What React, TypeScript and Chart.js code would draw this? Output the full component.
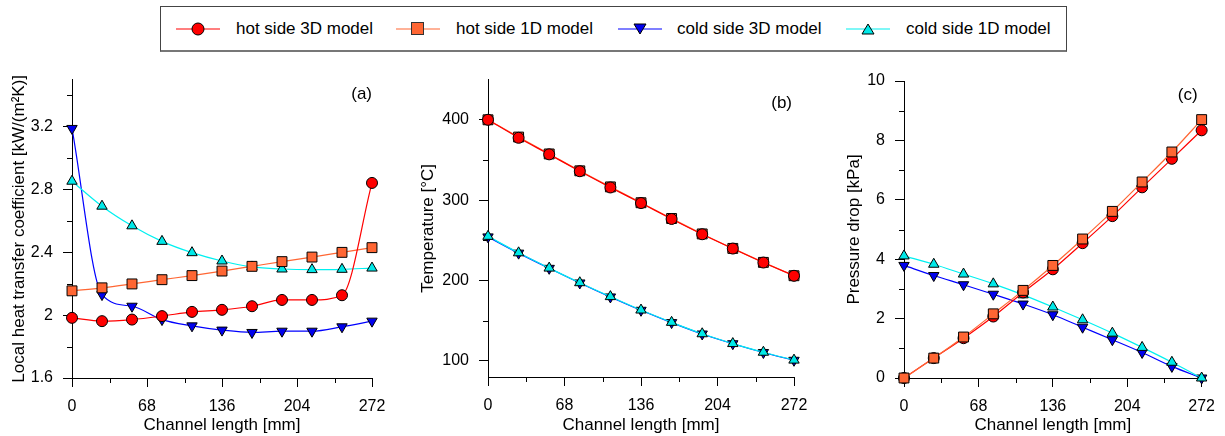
import React, { useEffect, useRef } from "react";
import { Chart, registerables } from "chart.js";

Chart.register(...registerables);

const FONT = "'Liberation Sans', Arial, sans-serif";

// ---------- data ----------
const channelPositions = [0, 27.2, 54.4, 81.6, 108.8, 136, 163.2, 190.4, 217.6, 244.8, 272];
const xMinorTicks = [34, 102, 170, 238];

const seriesNames = ["hot side 3D model", "hot side 1D model", "cold side 3D model", "cold side 1D model"];

// (a) local heat transfer coefficient [kW/(m2K)]
const htcHot3D = [1.983, 1.962, 1.972, 1.994, 2.021, 2.034, 2.057, 2.097, 2.097, 2.127, 2.842];
const htcHot1D = [2.155, 2.174, 2.199, 2.226, 2.252, 2.281, 2.311, 2.341, 2.37, 2.4, 2.43];
const htcCold3D = [3.189, 2.131, 2.057, 1.972, 1.932, 1.905, 1.89, 1.898, 1.898, 1.926, 1.962];
const htcCold1D = [2.853, 2.694, 2.569, 2.47, 2.398, 2.345, 2.307, 2.294, 2.29, 2.292, 2.3];
const htcMinorTicks = [1.8, 2.2, 2.6, 3.0, 3.4];

// (b) temperature [°C]
const tempHot3D = [400, 377.6, 357, 336, 315.8, 296.4, 276.6, 257.6, 239.8, 222.4, 205.9];
const tempHot1D = [400, 378.5, 357.5, 336.5, 316.5, 296.8, 277.2, 258, 240, 222.6, 206];
const tempCold3D = [254.3, 234.1, 215.2, 197, 179.6, 163, 147.7, 133.5, 121.4, 110.5, 100.8];
const tempCold1D = [255, 234.5, 215.5, 197.3, 180, 163.3, 148, 133.8, 121.6, 110.8, 101];
const tempMinorTicks = [150, 250, 350];

// (c) pressure drop [kPa]
const dpHot3D = [0, 0.67, 1.34, 2.07, 2.88, 3.66, 4.54, 5.45, 6.42, 7.38, 8.34];
const dpHot1D = [0, 0.67, 1.38, 2.16, 2.95, 3.79, 4.68, 5.61, 6.6, 7.61, 8.7];
const dpCold3D = [3.79, 3.45, 3.14, 2.82, 2.49, 2.13, 1.71, 1.29, 0.86, 0.39, 0];
const dpCold1D = [4.11, 3.83, 3.5, 3.17, 2.8, 2.39, 1.96, 1.51, 1.03, 0.53, 0];
const dpMinorTicks = [1, 3, 5, 7, 9];

// ---------- styles ----------
type SeriesStyle = { line: string; fill: string; pointStyle: string; radius: number; rotation: number };
const seriesStyles: SeriesStyle[] = [
  { line: "#ff0000", fill: "#ff0000", pointStyle: "circle", radius: 5.5, rotation: 0 },
  { line: "#ff6633", fill: "#ff6633", pointStyle: "rect", radius: 7, rotation: 0 },
  { line: "#0000ff", fill: "#0000ee", pointStyle: "triangle", radius: 6, rotation: 180 },
  { line: "#00f0f0", fill: "#00e8e8", pointStyle: "triangle", radius: 6, rotation: 0 },
];

const minorTicksPlugin = {
  id: "minorTicks",
  afterDraw(chart: any, _args: any, opts: any) {
    const { ctx, scales } = chart;
    const x = scales.x;
    const y = scales.y;
    ctx.save();
    ctx.strokeStyle = "#000";
    ctx.lineWidth = 1;
    ctx.beginPath();
    (opts.x || []).forEach((v: number) => {
      const px = Math.round(x.getPixelForValue(v)) + 0.5;
      const py = Math.round(chart.chartArea.bottom);
      ctx.moveTo(px, py);
      ctx.lineTo(px, py + 5);
    });
    (opts.y || []).forEach((v: number) => {
      const py = Math.round(y.getPixelForValue(v)) + 0.5;
      const px = Math.round(chart.chartArea.left);
      ctx.moveTo(px, py);
      ctx.lineTo(px - 5, py);
    });
    ctx.stroke();
    ctx.restore();
  },
};

const panelTagPlugin = {
  id: "panelTag",
  afterDraw(chart: any, _args: any, opts: any) {
    if (!opts.text) return;
    const { ctx, chartArea } = chart;
    ctx.save();
    ctx.font = `17px ${FONT}`;
    ctx.fillStyle = "#000";
    ctx.textAlign = "right";
    ctx.textBaseline = "middle";
    ctx.fillText(opts.text, chartArea.right + opts.dx, chartArea.top + opts.dy);
    ctx.restore();
  },
};

type PanelProps = {
  left: number;
  top: number;
  width: number;
  height: number;
  plotLeft: number;
  plotTop: number;
  plotRight: number;
  plotBottom: number;
  series: number[][];
  orders: number[];
  yMin: number;
  yMax: number;
  yStep: number;
  yMinor: number[];
  yTitle: string;
  yTitlePad: number;
  tag: string;
  tagDx: number;
  tagDy: number;
};

function Panel(p: PanelProps) {
  const ref = useRef<HTMLCanvasElement>(null);
  useEffect(() => {
    const tickFont = { family: FONT, size: 16 };
    const titleFont = { family: FONT, size: 17 };
    const chart = new Chart(ref.current as HTMLCanvasElement, {
      type: "line",
      data: {
        datasets: p.series.map((vals, i) => ({
          label: seriesNames[i],
          data: vals.map((v, j) => ({ x: channelPositions[j], y: v })),
          borderColor: seriesStyles[i].line,
          backgroundColor: seriesStyles[i].fill,
          borderWidth: 1.2,
          pointStyle: seriesStyles[i].pointStyle as any,
          pointRadius: seriesStyles[i].radius,
          pointRotation: seriesStyles[i].rotation,
          pointBorderColor: "#000",
          pointBorderWidth: 1,
          pointBackgroundColor: seriesStyles[i].fill,
          cubicInterpolationMode: "monotone" as const,
          clip: false as any,
          order: p.orders[i],
          fill: false,
        })),
      },
      options: {
        responsive: false,
        animation: false,
        devicePixelRatio: 1,
        events: [],
        layout: { padding: { left: 0, top: p.plotTop, right: p.width - p.plotRight, bottom: 0 } },
        plugins: {
          legend: { display: false },
          tooltip: { enabled: false },
          minorTicks: { x: xMinorTicks, y: p.yMinor },
          panelTag: { text: p.tag, dx: p.tagDx, dy: p.tagDy },
        } as any,
        scales: {
          x: {
            type: "linear",
            min: 0,
            max: 272,
            ticks: { stepSize: 68, padding: 10, color: "#000", font: tickFont, maxRotation: 0 },
            grid: { drawOnChartArea: false, drawTicks: true, tickLength: 9, color: "#000", lineWidth: 1 },
            border: { display: true, color: "#000", width: 1 },
            title: { display: true, text: "Channel length [mm]", color: "#000", font: titleFont, padding: { top: 0, bottom: 0 } },
            afterFit: (s: any) => {
              s.height = p.height - p.plotBottom;
            },
          },
          y: {
            type: "linear",
            min: p.yMin,
            max: p.yMax,
            ticks: {
              stepSize: p.yStep,
              includeBounds: false,
              padding: 10,
              color: "#000",
              font: tickFont,
              callback: (v: any) => String(Number(Number(v).toFixed(2))),
            },
            grid: { drawOnChartArea: false, drawTicks: true, tickLength: 9, color: "#000", lineWidth: 1 },
            border: { display: true, color: "#000", width: 1 },
            title: { display: true, text: p.yTitle, color: "#000", font: titleFont, padding: { top: p.yTitlePad, bottom: 0 } },
            afterFit: (s: any) => {
              s.width = p.plotLeft;
            },
          },
        },
      },
      plugins: [minorTicksPlugin, panelTagPlugin],
    });
    return () => chart.destroy();
  }, []);
  return (
    <canvas
      ref={ref}
      width={p.width}
      height={p.height}
      style={{ position: "absolute", left: p.left, top: p.top, width: p.width, height: p.height }}
    />
  );
}

function LegendMarker({ kind, cx }: { kind: number; cx: number }) {
  const s = seriesStyles[kind];
  let marker: React.ReactNode = null;
  if (kind === 0) marker = <circle cx={22} cy={8} r={6} fill={s.fill} stroke="#000" strokeWidth={1} />;
  if (kind === 1) marker = <rect x={15.5} y={1.5} width={12} height={12} fill={s.fill} stroke="#333" strokeWidth={1} />;
  if (kind === 2) marker = <polygon points="16,3 28,3 22,13" fill={s.fill} stroke="#000" strokeWidth={1} />;
  if (kind === 3) marker = <polygon points="22,3 28,13 16,13" fill={s.fill} stroke="#000" strokeWidth={1} />;
  return (
    <svg width={44} height={16} style={{ position: "absolute", left: cx - 22, top: 21 }}>
      <line x1={0} y1={8} x2={44} y2={8} stroke={s.line} strokeWidth={1.2} />
      {marker}
    </svg>
  );
}

const legendMarkerX = [198, 418, 640, 868];
const legendTextX = [236, 456, 677, 906];

export default function App() {
  return (
    <div style={{ position: "fixed", left: 0, top: 0, width: 1225, height: 436, background: "#fff", overflow: "hidden" }}>
      <div
        style={{
          position: "absolute",
          left: 160,
          top: 6,
          width: 907,
          height: 46,
          boxSizing: "border-box",
          border: "1px solid #444",
          borderBottom: "2px solid #777",
        }}
      />
      {seriesNames.map((name, i) => (
        <React.Fragment key={name}>
          <LegendMarker kind={i} cx={legendMarkerX[i]} />
          <span
            style={{
              position: "absolute",
              left: legendTextX[i],
              top: 19,
              font: `17px ${FONT}`,
              lineHeight: "20px",
              color: "#000",
              whiteSpace: "nowrap",
            }}
          >
            {name}
          </span>
        </React.Fragment>
      ))}
      <Panel
        left={0}
        top={60}
        width={400}
        height={376}
        plotLeft={72}
        plotTop={18}
        plotRight={372}
        plotBottom={318}
        series={[htcHot3D, htcHot1D, htcCold3D, htcCold1D]}
        orders={[0, 1, 3, 2]}
        yMin={1.6}
        yMax={3.5}
        yStep={0.4}
        yMinor={htcMinorTicks}
        yTitle="Local heat transfer coefficient [kW/(m²K)]"
        yTitlePad={9}
        tag="(a)"
        tagDx={0}
        tagDy={15}
      />
      <Panel
        left={400}
        top={60}
        width={420}
        height={376}
        plotLeft={88}
        plotTop={13}
        plotRight={394}
        plotBottom={317}
        series={[tempHot3D, tempHot1D, tempCold3D, tempCold1D]}
        orders={[0, 1, 3, 2]}
        yMin={80}
        yMax={450}
        yStep={100}
        yMinor={tempMinorTicks}
        yTitle="Temperature [°C]"
        yTitlePad={18}
        tag="(b)"
        tagDx={-2}
        tagDy={23.5}
      />
      <Panel
        left={820}
        top={60}
        width={405}
        height={376}
        plotLeft={84}
        plotTop={21}
        plotRight={382}
        plotBottom={318}
        series={[dpHot3D, dpHot1D, dpCold3D, dpCold1D]}
        orders={[1, 0, 3, 2]}
        yMin={0}
        yMax={10}
        yStep={2}
        yMinor={dpMinorTicks}
        yTitle="Pressure drop [kPa]"
        yTitlePad={24}
        tag="(c)"
        tagDx={-4}
        tagDy={14}
      />
    </div>
  );
}
